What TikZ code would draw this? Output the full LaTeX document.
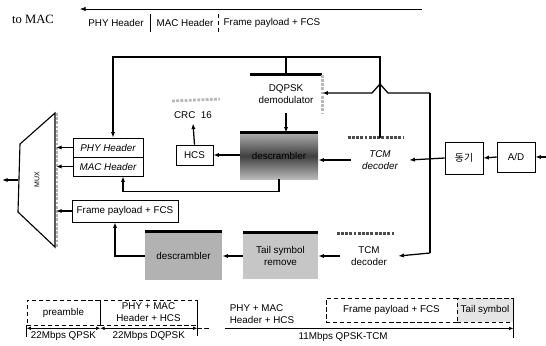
\documentclass[tikz,border=0pt]{standalone}
\usepackage{fontspec}
\setmainfont{Liberation Sans}
\newfontfamily\serifmac{Liberation Serif}
\newfontfamily\krfont{Noto Sans CJK KR}
\usetikzlibrary{arrows.meta,calc}

\begin{document}
\begin{tikzpicture}[x=0.025cm, y=-0.025cm,
  font=\fontsize{7}{8.5}\selectfont,
  wh/.style 2 args={minimum width=#1*0.025cm, minimum height=#2*0.025cm},
  arr/.style={-{Latex[length=4pt,width=3pt]}, line width=0.9pt},
  dim/.style={{Latex[length=3pt,width=2.5pt]}-{Latex[length=3pt,width=2.5pt]}, thin},
  box/.style={draw, thin, align=center, inner sep=1pt},
  frm/.style={draw, densely dashed, thin, align=center, inner sep=1pt},
  block/.style={align=center, inner sep=1pt},
  topbar/.style={line width=2.2pt},
  hatch/.style={line width=2pt, gray!55, densely dotted}]
  \useasboundingbox (0,0) rectangle (546,345);

  % frame handed to the MAC
  \node[font=\fontsize{9}{10}\selectfont\serifmac] (tomac) at (33,19) {to MAC};
  \coordinate (topR) at (422,9);
  \coordinate (topL) at (80,9);
  \draw[-{Latex[length=4pt,width=3pt]}, thin] (topR) -- (topL);
  \node (hphy) at (116,23) {PHY Header};
  \node (hmac) at (185,23) {MAC Header};
  \node (hpay) at (272,23) {Frame payload + FCS};
  \draw[thin] ($(hphy.east)!0.5!(hmac.west)$) ++(0,-9) -- ++(0,18);
  \draw[thin, densely dashed] ($(hmac.east)!0.5!(hpay.west)$) ++(0,-9) -- ++(0,18);

  % multiplexer
  \draw[thick] (55,113) -- (20,144) -- (18,212) -- (55,247) -- cycle;
  \draw[gray!60, line width=2pt, densely dotted] (57,113) -- (57,247);
  \node[rotate=90, font=\fontsize{5}{6}\selectfont] (mux) at (37,180) {MUX};
  \coordinate (muxR) at (56,180);
  \coordinate (muxL) at (18,180);
  \draw[arr] (muxL) -- ++(-16,0);

  % header path
  \node[box, wh={70}{19}, font=\fontsize{7}{8.5}\selectfont\itshape] (phy) at (108,147.5) {PHY Header};
  \node[box, wh={70}{19}, font=\fontsize{7}{8.5}\selectfont\itshape] (mac) at (108,166.5) {MAC Header};
  \node[box, wh={106}{22}] (pay) at (125,211) {Frame payload + FCS};
  \node[box, wh={37}{20}] (hcs) at (194.5,155) {HCS};
  \node (crc) at (193,115) {CRC\ \ 16};
  \draw[hatch] (172,101) -- (220,99);

  \node[block, wh={72}{38}] (dqpsk) at (286,94) {DQPSK\\demodulator};
  \draw[topbar] (dqpsk.north west) -- (dqpsk.north east);
  \draw[hatch] (dqpsk.north east) -- (dqpsk.south east);

  \node[block, wh={78}{46}, top color=gray!65, bottom color=gray!55, middle color=black!75] (descA) at (279,156) {descrambler};
  \draw[topbar] (descA.north west) -- (descA.north east);

  \node[block, wh={58}{44}, font=\fontsize{7}{8.5}\selectfont\itshape] (tcmA) at (380,160) {TCM\\decoder};
  \draw[hatch, black!70] ($(tcmA.north west)+(-3,0)$) -- ($(tcmA.north east)+(-5,0)$);

  % receiver front end
  \node[box, wh={38}{32}, font=\fontsize{7}{8.5}\selectfont\krfont] (sync) at (464,158) {동기};
  \node[box, wh={38}{30}] (ad) at (516,157) {A/D};
  \coordinate (in) at (546,157);
  \coordinate (jtop) at (430,93);
  \coordinate (jbot) at (430,253);
  \coordinate (busL) at (113,57);

  % payload path
  \node[block, wh={77}{48}, fill=gray!60] (descB) at (183.5,256) {descrambler};
  \draw[topbar] (descB.north west) -- (descB.north east);
  \node[block, wh={75}{46}, fill=gray!45] (tail) at (280.5,256) {Tail symbol\\remove};
  \draw[topbar] (tail.north west) -- (tail.north east);
  \node[block, wh={58}{44}] (tcmB) at (369,256) {TCM\\decoder};
  \draw[hatch, black!70] ($(tcmB.north west)+(-3,0)$) -- ($(tcmB.north east)+(-3,0)$);

  % connections
  \draw[arr] (in) -- (ad.east);
  \draw[arr] (ad.west) -- (sync.east);
  \draw[arr] (sync.west) -- (tcmA.east);
  \draw[line width=0.9pt] (jtop) -- (jbot);
  \draw[arr] (jtop) -- ++(-42,0) -- ++(-8,-9) -- ++(-8,9) -- (dqpsk.east |- jtop);
  \draw[arr] (jbot) -- (tcmB.east);
  \draw[arr] (tcmA.north) -- (tcmA.north |- busL) -- (busL) -- (busL |- phy.north);
  \draw[line width=0.9pt] (dqpsk.north) -- (dqpsk.north |- busL);
  \draw[arr] (dqpsk.south) -- (dqpsk.south |- descA.north);
  \draw[arr] (tcmA.west) -- (descA.east |- tcmA.west);
  \draw[arr] (descA.west |- hcs) -- (hcs.east);
  \draw[arr] (hcs.north) -- (crc.south);
  \draw[arr] (descA.south) -- ++(0,12) -| ($(mac.south)+(15,0)$);
  \draw[arr] (phy.west) -- (phy.west -| muxR);
  \draw[arr] (mac.west) -- (mac.west -| muxR);
  \draw[arr] (pay.west) -- (pay.west -| muxR);
  \draw[arr] (tcmB.west) -- (tail.east);
  \draw[arr] (tail.west) -- (descB.east);
  \draw[arr] (descB.west) -| ($(pay.south)+(-10,0)$);

  % frame format
  \node[frm, wh={73}{25}] (pre) at (63.5,312.5) {preamble};
  \node[frm, wh={97}{25}] (phm) at (148.5,312.5) {PHY + MAC\\Header + HCS};
  \node[align=left] (phm2) at (262,314) {PHY + MAC\\Header + HCS};
  \node[frm, wh={131}{24}] (pay2) at (391.5,310) {Frame payload + FCS};
  \node[frm, wh={56}{24}, fill=gray!20] (tail2) at (485,310) {Tail symbol};
  \draw[dim] ($(pre.south west)+(0,3)$) -- node[below=-1pt] {22Mbps QPSK} ($(pre.south east)+(0,3)$);
  \draw[dim] ($(pre.south east)+(0,3)$) -- node[below=-1pt] {22Mbps DQPSK} ($(phm.south east)+(0,3)$);
  \draw[thin] (pre.south west) -- ++(0,12);
  \draw[thin] (phm.north east) -- ++(0,36);
  \draw[thin, densely dashed] ($(phm.south east)+(0,3)$) -- ++(12,0);
  \draw[thin, -{Latex[length=3pt,width=2.5pt]}] (phm2.south west) -- node[pos=0.41, below=-1pt] {11Mbps QPSK-TCM} (phm2.south west -| tail2.east);
  \draw[thin] (tail2.north east) -- ++(0,40);
\end{tikzpicture}
\end{document}
